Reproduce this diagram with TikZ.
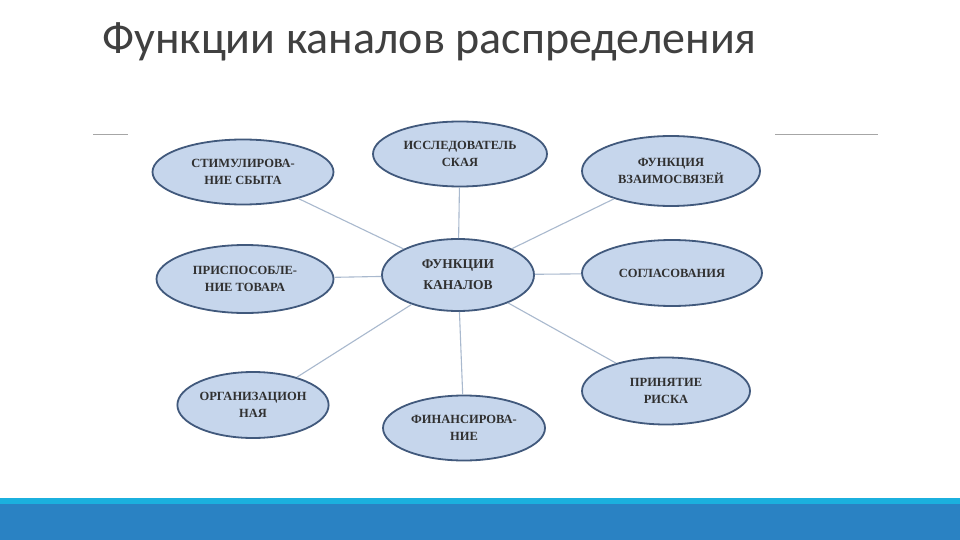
\documentclass[tikz,border=0pt]{standalone}
\usepackage{fontspec}
\setmainfont{Liberation Serif}
\newfontfamily\titlefont{Carlito}
\usetikzlibrary{shapes.geometric}
\definecolor{ellfill}{HTML}{C6D6EC}
\definecolor{elldraw}{HTML}{41597C}
\definecolor{linkcol}{HTML}{A9B9CE}
\definecolor{barblue}{HTML}{2A82C3}
\definecolor{barcyan}{HTML}{1BB0DE}
\definecolor{txtcol}{HTML}{303030}
\tikzset{
  fn/.style={ellipse, draw=elldraw, line width=1.8pt, fill=ellfill, inner sep=0pt,
    align=center, text=txtcol, font=\bfseries\fontsize{12.5}{17}\selectfont},
  link/.style={draw=linkcol, line width=1.1pt},
  rule/.style={draw=gray!70, line width=0.6pt}
}
\begin{document}
\begin{tikzpicture}[x=1pt,y=-1pt]
\useasboundingbox (0,0) rectangle (960,540);
\fill[white] (0,0) rectangle (960,540);
\node[anchor=base west, inner sep=0pt, text=black!75, font=\titlefont\fontsize{46}{48}\selectfont] (title) at (102,54) {Функции каналов распределения};
\coordinate (r1a) at (93,134); \coordinate (r1b) at (128,134);
\coordinate (r2a) at (775,134); \coordinate (r2b) at (878,134);
\draw[rule] (r1a) -- (r1b);
\draw[rule] (r2a) -- (r2b);
% bottom bar
\fill[barcyan] (0,498) rectangle (960,504);
\fill[barblue] (0,504) rectangle (960,540);
% nodes
\node[fn, minimum width=152pt, minimum height=72pt, font=\bfseries\fontsize{13.5}{21}\selectfont] (c) at (458,275) {ФУНКЦИИ\\КАНАЛОВ};
\node[fn, minimum width=181pt, minimum height=65pt] (stim) at (243,172) {СТИМУЛИРОВА-\\НИЕ СБЫТА};
\node[fn, minimum width=174pt, minimum height=65pt] (issl) at (460,154) {ИССЛЕДОВАТЕЛЬ\\СКАЯ};
\node[fn, minimum width=178pt, minimum height=70pt] (vz) at (671,171) {ФУНКЦИЯ\\ВЗАИМОСВЯЗЕЙ};
\node[fn, minimum width=177pt, minimum height=68pt] (pris) at (245,279) {ПРИСПОСОБЛЕ-\\НИЕ ТОВАРА};
\node[fn, minimum width=180pt, minimum height=66pt] (sogl) at (672,273) {СОГЛАСОВАНИЯ};
\node[fn, minimum width=150pt, minimum height=66pt] (org) at (253,405) {ОРГАНИЗАЦИОН\\НАЯ};
\node[fn, minimum width=162pt, minimum height=65pt] (fin) at (464,428) {ФИНАНСИРОВА-\\НИЕ};
\node[fn, minimum width=168pt, minimum height=67pt] (risk) at (666,391) {ПРИНЯТИЕ\\РИСКА};
% links
\draw[link] (c) -- (stim);
\draw[link] (c) -- (issl);
\draw[link] (c) -- (vz);
\draw[link] (c) -- (pris);
\draw[link] (c) -- (sogl);
\draw[link] (c) -- (org);
\draw[link] (c) -- (fin);
\draw[link] (c) -- (risk);
\end{tikzpicture}
\end{document}
